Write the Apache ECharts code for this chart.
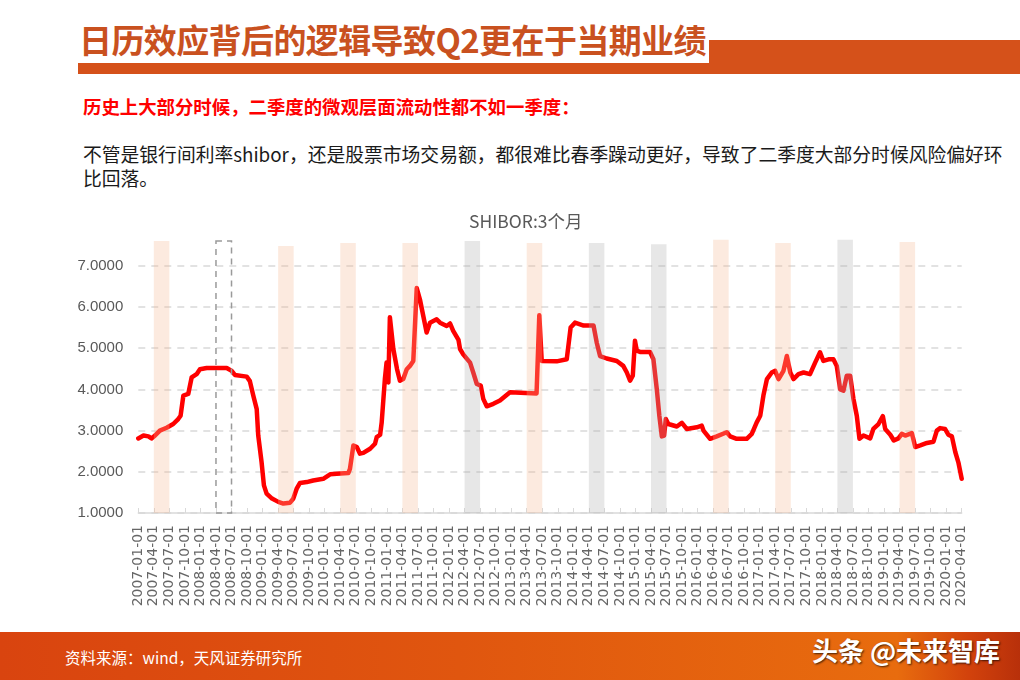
<!DOCTYPE html>
<html>
<head>
<meta charset="utf-8">
<script src="https://cdn.jsdelivr.net/npm/echarts@6/dist/echarts.min.js"></script>
<style>
html,body{margin:0;padding:0;width:1020px;height:680px;overflow:hidden;background:#fff;font-family:"Noto Sans CJK SC","Noto Sans",sans-serif;}
#title{position:absolute;left:79px;top:16px;font-size:33px;font-weight:bold;color:#C9511F;white-space:nowrap;line-height:46px;letter-spacing:-0.6px;}
#barL{position:absolute;left:78px;top:63px;width:942px;height:11px;background:#D5511A;}
#barR{position:absolute;left:709px;top:40px;width:311px;height:34px;background:#D5511A;}
#sub{position:absolute;left:83px;top:94px;font-size:18.4px;font-weight:bold;color:#ff0000;white-space:nowrap;line-height:24px;}
#para{position:absolute;left:83px;top:142px;font-size:18.8px;line-height:24px;color:#1a1a1a;white-space:nowrap;}
#foot{position:absolute;left:0;top:632px;width:1020px;height:48px;background:linear-gradient(90deg,#D9440F 0%,#E0560F 45%,#E86C0E 88%,#D2420C 95%,#B8300A 100%);}
#src{position:absolute;left:65px;top:645px;font-size:15.5px;color:#fff;white-space:nowrap;line-height:24px;}
#wm{position:absolute;left:812px;top:630px;font-size:26px;font-weight:bold;color:#fff;white-space:nowrap;line-height:40px;text-shadow:1px 1px 2px rgba(0,0,0,0.7);}
#chart{position:absolute;left:0;top:0;width:1020px;height:680px;}
</style>
</head>
<body>
<div id="barR"></div>
<div id="barL"></div>
<div id="title">日历效应背后的逻辑导致Q2更在于当期业绩</div>
<div id="sub">历史上大部分时候，二季度的微观层面流动性都不如一季度：</div>
<div id="para">不管是银行间利率shibor，还是股票市场交易额，都很难比春季躁动更好，导致了二季度大部分时候风险偏好环<br>比回落。</div>
<div id="foot"></div>
<div id="src">资料来源：wind，天风证券研究所</div>
<div id="wm">头条 @未来智库</div>
<div id="chart"></div>
<script>
// SHIBOR 3M
var dates = [
'2007-01-01','2007-02-01','2007-02-28','2007-03-18','2007-04-08','2007-05-06','2007-06-15','2007-07-24','2007-08-23','2007-09-06',
'2007-09-22','2007-10-21','2007-11-10','2007-12-09','2007-12-29','2008-02-07','2008-06-03','2008-07-02','2008-07-21','2008-09-29',
'2008-10-18','2008-11-07','2008-11-27','2008-12-06','2008-12-26','2009-01-09','2009-01-25','2009-02-24','2009-04-02','2009-05-01',
'2009-06-10','2009-06-29','2009-07-19','2009-08-08','2009-09-17','2009-10-25','2009-12-23','2010-02-02','2010-03-11','2010-05-18',
'2010-05-28','2010-06-17','2010-07-07','2010-07-26','2010-08-15','2010-09-24','2010-10-23','2010-11-02','2010-11-22','2010-12-01',
'2010-12-20','2010-12-30','2011-01-10','2011-01-19','2011-02-08','2011-02-28','2011-03-17','2011-04-06','2011-04-26','2011-05-15',
'2011-06-04','2011-06-24','2011-07-13','2011-08-02','2011-08-22','2011-09-11','2011-10-20','2011-11-09','2011-12-18','2012-01-07',
'2012-01-26','2012-02-25','2012-03-05','2012-03-24','2012-05-03','2012-05-22','2012-06-12','2012-07-05','2012-07-20','2012-08-10',
'2012-09-18','2012-10-27','2012-12-25','2013-05-29','2013-06-14','2013-06-28','2013-09-25','2013-11-23','2013-12-16','2014-01-11',
'2014-03-01','2014-04-28','2014-05-17','2014-06-06','2014-07-15','2014-09-13','2014-10-21','2014-11-11','2014-11-30','2014-12-16',
'2014-12-29','2015-01-09','2015-01-28','2015-03-26','2015-04-15','2015-05-05','2015-05-20','2015-06-04','2015-06-17','2015-06-27',
'2015-07-12','2015-09-01','2015-09-30','2015-10-29','2015-12-27','2016-01-26','2016-02-05','2016-03-14','2016-04-22','2016-06-20',
'2016-07-10','2016-08-18','2016-10-16','2016-11-15','2016-12-14','2017-01-04','2017-01-23','2017-02-12','2017-03-11','2017-03-31',
'2017-04-20','2017-05-19','2017-06-08','2017-06-28','2017-07-17','2017-08-16','2017-09-15','2017-10-23','2017-11-22','2017-12-21',
'2018-01-10','2018-02-09','2018-03-08','2018-03-28','2018-04-17','2018-05-06','2018-05-26','2018-06-15','2018-07-04','2018-07-24',
'2018-08-09','2018-09-02','2018-10-11','2018-10-30','2018-11-29','2018-12-25','2019-01-08','2019-02-07','2019-02-26','2019-03-25',
'2019-04-14','2019-05-04','2019-06-12','2019-07-02','2019-08-01','2019-09-10','2019-10-18','2019-11-07','2019-11-26','2019-12-25',
'2020-01-14','2020-02-04','2020-02-23','2020-03-12','2020-04-01'
];
var shibor3m = [
2.81,2.88,2.86,2.81,2.88,3.00,3.07,3.16,3.28,3.36,
3.85,3.89,4.29,4.37,4.49,4.52,4.52,4.45,4.35,4.31,
4.20,3.85,3.52,2.88,2.23,1.67,1.47,1.35,1.27,1.23,
1.25,1.35,1.59,1.73,1.75,1.79,1.83,1.94,1.95,1.97,
2.07,2.64,2.60,2.44,2.46,2.56,2.68,2.84,2.90,3.20,
4.25,4.65,4.17,5.75,4.98,4.49,4.21,4.25,4.49,4.57,
4.69,6.46,6.18,5.78,5.38,5.62,5.70,5.62,5.54,5.60,
5.42,5.20,4.98,4.85,4.65,4.41,4.13,4.09,3.77,3.59,
3.65,3.73,3.93,3.90,5.80,4.69,4.68,4.73,5.50,5.62,
5.55,5.55,5.14,4.81,4.75,4.69,4.57,4.41,4.21,4.33,
5.18,4.94,4.91,4.91,4.73,4.00,3.36,2.86,2.88,3.28,
3.16,3.10,3.19,3.04,3.08,3.12,3.00,2.80,2.86,2.96,
2.86,2.80,2.80,2.92,3.20,3.36,3.85,4.25,4.41,4.45,
4.25,4.45,4.81,4.41,4.25,4.37,4.41,4.37,4.65,4.90,
4.69,4.73,4.73,4.57,4.00,3.97,4.33,4.33,3.77,3.36,
2.80,2.88,2.81,3.04,3.16,3.35,3.04,2.90,2.76,2.81,
2.92,2.88,2.94,2.60,2.64,2.70,2.73,3.00,3.06,3.04,
2.90,2.86,2.48,2.23,1.83
];
// quarter tick labels
var tickLabels = [
'2007-01-01','2007-04-01','2007-07-01','2007-10-01','2008-01-01','2008-04-01','2008-07-01','2008-10-01',
'2009-01-01','2009-04-01','2009-07-01','2009-10-01','2010-01-01','2010-04-01','2010-07-01','2010-10-01',
'2011-01-01','2011-04-01','2011-07-01','2011-10-01','2012-01-01','2012-04-01','2012-07-01','2012-10-01',
'2013-01-01','2013-04-01','2013-07-01','2013-10-01','2014-01-01','2014-04-01','2014-07-01','2014-10-01',
'2015-01-01','2015-04-01','2015-07-01','2015-10-01','2016-01-01','2016-04-01','2016-07-01','2016-10-01',
'2017-01-01','2017-04-01','2017-07-01','2017-10-01','2018-01-01','2018-04-01','2018-07-01','2018-10-01',
'2019-01-01','2019-04-01','2019-07-01','2019-10-01','2020-01-01','2020-04-01'
];
// Q2 highlight bands
var bandStart = ['2007-04-01','2008-04-01','2009-04-01','2010-04-01','2011-04-01','2012-04-01','2013-04-01','2014-04-01','2015-04-01','2016-04-01','2017-04-01','2018-04-01','2019-04-01'];
var bandEnd   = ['2007-07-01','2008-07-01','2009-07-01','2010-07-01','2011-07-01','2012-07-01','2013-07-01','2014-07-01','2015-07-01','2016-07-01','2017-07-01','2018-07-01','2019-07-01'];
var bandTop   = [7.60,7.60,7.48,7.55,7.55,7.60,7.55,7.55,7.52,7.63,7.55,7.63,7.58];
var bandKind  = ['orange','box','orange','orange','orange','gray','orange','gray','gray','orange','orange','gray','orange'];

function monthIndex(s){
  var p = s.split('-'); var y=+p[0], m=+p[1], d=+p[2];
  var dim = new Date(y, m, 0).getDate();
  return (y-2007)*12 + (m-1) + (d-1)/dim;
}
var lineData = dates.map(function(d,i){ return [monthIndex(d), shibor3m[i]]; });
var bandData = bandStart.map(function(s,i){ return [monthIndex(s), monthIndex(bandEnd[i]), bandTop[i]]; });

var chart = echarts.init(document.getElementById('chart'), null, {renderer:'canvas'});
chart.setOption({
  animation:false,
  backgroundColor:'transparent',
  title:{text:'SHIBOR:3个月', left:464, top:208, textStyle:{fontSize:17.5, fontWeight:'normal', color:'#595959', fontFamily:'"Noto Sans CJK SC", sans-serif'}},
  grid:{left:138.3, right:58.3, top:239, bottom:167, containLabel:false},
  xAxis:{
    type:'value', min:0, max:159, interval:3,
    axisLine:{show:true, lineStyle:{color:'#d9d9d9', width:1.5}},
    axisTick:{show:true, inside:true, length:5, lineStyle:{color:'#d9d9d9', width:1}},
    splitLine:{show:false},
    axisLabel:{rotate:90, margin:12, color:'#666666', fontSize:14, fontFamily:'"DejaVu Sans", sans-serif',
      formatter:function(v){ var i=Math.round(v/3); return tickLabels[i]||''; }}
  },
  yAxis:{
    type:'value', min:1, max:7.65, interval:1,
    axisLine:{show:false}, axisTick:{show:false},
    splitLine:{show:true, showMaxLine:false, lineStyle:{color:'#d9d9d9', width:1.5, type:[7,6]}},
    axisLabel:{showMaxLabel:false, margin:15, color:'#595959', fontSize:15, fontFamily:'"Liberation Sans", Arial, sans-serif',
      formatter:function(v){ return v.toFixed(4); }}
  },
  series:[
    {type:'line', data:lineData, showSymbol:false, symbol:'none', z:2,
     lineStyle:{color:'#ff0000', width:4.5, join:'round', cap:'round'}},
    {type:'custom', data:bandData, z:3, encode:{x:[0,1], y:2},
     renderItem:function(params, api){
       var p0 = api.coord([api.value(0), api.value(2)]);
       var p1 = api.coord([api.value(1), 1]);
       var kind = bandKind[params.dataIndex];
       var shape = {x:p0[0], y:p0[1], width:p1[0]-p0[0], height:p1[1]-p0[1]};
       if (kind === 'box') {
         return {type:'rect', shape:shape, style:{fill:null, stroke:'#9a9a9a', lineWidth:1.5, lineDash:[6,5]}};
       }
       return {type:'rect', shape:shape, style:{fill: kind==='gray' ? 'rgba(175,175,175,0.3)' : 'rgba(244,185,150,0.3)'}};
     }}
  ]
});
</script>
</body>
</html>
